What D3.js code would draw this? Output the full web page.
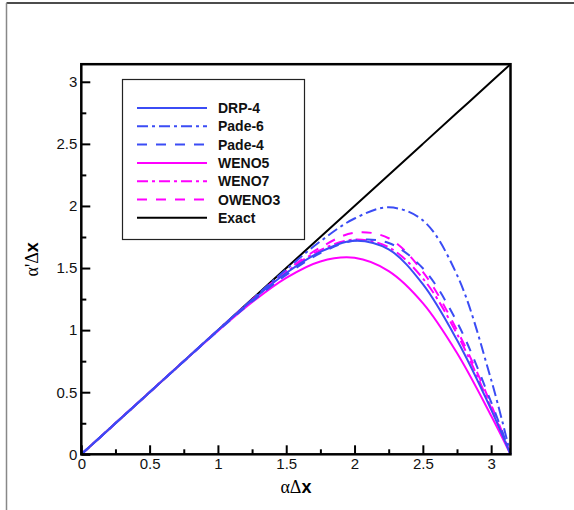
<!DOCTYPE html>
<html>
<head>
<meta charset="utf-8">
<script src="https://cdn.jsdelivr.net/npm/d3@7"></script>
<style>
  body { margin: 0; background: #fff; }
  text { font-family: Arial, "Liberation Sans", sans-serif; }
</style>
</head>
<body>
<svg id="mainSvg" width="574" height="510"></svg>
<script>
// wavenumbers (alpha*dx) where the curves were read
var waveNumbers = [0, 0.25, 0.5, 0.75, 1.0, 1.25, 1.5, 1.75, 2.0, 2.25, 2.5, 2.75, 3.0, Math.PI];
// modified wavenumbers
var drp4   = [0, 0.25, 0.50, 0.75, 0.999, 1.24, 1.46, 1.63, 1.72, 1.65, 1.37, 0.92, 0.36, 0];
var pade6  = [0, 0.25, 0.50, 0.75, 1.00, 1.247, 1.489, 1.715, 1.899, 1.989, 1.884, 1.445, 0.60, 0];
var pade4  = [0, 0.25, 0.50, 0.749, 0.994, 1.23, 1.445, 1.62, 1.722, 1.702, 1.498, 1.065, 0.42, 0];
var weno5  = [0, 0.25, 0.50, 0.749, 0.994, 1.225, 1.421, 1.553, 1.582, 1.475, 1.217, 0.815, 0.31, 0];
var weno7  = [0, 0.25, 0.50, 0.75, 0.999, 1.242, 1.467, 1.645, 1.729, 1.667, 1.417, 0.97, 0.373, 0];
var oweno3 = [0, 0.25, 0.50, 0.75, 0.999, 1.245, 1.475, 1.665, 1.785, 1.74, 1.47, 1.0, 0.40, 0];
var exact  = waveNumbers.slice();

var seriesNames = ["DRP-4", "Pade-6", "Pade-4", "WENO5", "WENO7", "OWENO3", "Exact"];
var seriesValues = [drp4, pade6, pade4, weno5, weno7, oweno3, exact];
var xTicks = [0, 0.5, 1, 1.5, 2, 2.5, 3];
var yTicks = [0, 0.5, 1, 1.5, 2, 2.5, 3];

var blue = "#3b4cf5", magenta = "#ff00ff";
// line style per series (same order as names)
var styles = [
  {color: blue, dash: null},
  {color: blue, dash: "11,4,3,4"},
  {color: blue, dash: "10,9"},
  {color: magenta, dash: null},
  {color: magenta, dash: "11,4,3,4"},
  {color: magenta, dash: "10,9"},
  {color: "#000", dash: null}
];

var svg = d3.select("#mainSvg");
var plotL = 81.3, plotR = 510.5, plotT = 64.2, plotB = 454.3;

var x = d3.scaleLinear().domain([0, Math.PI]).range([plotL, plotR]);
var y = d3.scaleLinear().domain([0, Math.PI]).range([plotB, plotT]);

// outer frame (only top and left edges visible)
svg.append("line").attr("x1", 6.5).attr("y1", 3).attr("x2", 574).attr("y2", 3)
  .style("stroke", "#111").style("stroke-width", 1.5);
svg.append("line").attr("x1", 6.5).attr("y1", 3).attr("x2", 6.5).attr("y2", 510)
  .style("stroke", "#888").style("stroke-width", 1.5);

// curves
var line = d3.line().x(function (d) { return x(d[0]); }).y(function (d) { return y(d[1]); })
  .curve(d3.curveCatmullRom.alpha(0.5));
var drawOrder = [6, 3, 4, 5, 2, 1, 0];
drawOrder.forEach(function (i) {
  var pts = waveNumbers.map(function (w, k) { return [w, seriesValues[i][k]]; });
  svg.append("path").datum(pts).attr("d", line)
    .style("fill", "none").style("stroke", styles[i].color)
    .style("stroke-width", 2).style("stroke-dasharray", styles[i].dash);
});

// axes: ticks pointing inward, bottom and left only
var xAxis = d3.axisBottom(x).tickValues(xTicks).tickSizeInner(-9).tickSizeOuter(0).tickPadding(4)
  .tickFormat(d3.format(""));
var yAxis = d3.axisLeft(y).tickValues(yTicks).tickSizeInner(-9).tickSizeOuter(0).tickPadding(4)
  .tickFormat(d3.format(""));
var xMinor = d3.axisBottom(x).tickValues(d3.range(0.25, 3.01, 0.5)).tickSizeInner(-5).tickSizeOuter(0).tickFormat("");
var yMinor = d3.axisLeft(y).tickValues(d3.range(0.25, 3.01, 0.5)).tickSizeInner(-5).tickSizeOuter(0).tickFormat("");

function styleAxis(g) {
  g.select(".domain").remove();
  g.selectAll(".tick line").style("stroke", "#000").style("stroke-width", 2);
  g.selectAll(".tick text").style("font-size", "15px").style("fill", "#111")
    .style("font-family", "Arial, 'Liberation Sans', sans-serif");
}
svg.append("g").attr("transform", "translate(0," + plotB + ")").call(xAxis).call(styleAxis);
svg.append("g").attr("transform", "translate(" + plotL + ",0)").call(yAxis).call(styleAxis);
svg.append("g").attr("transform", "translate(0," + plotB + ")").call(xMinor).call(styleAxis);
svg.append("g").attr("transform", "translate(" + plotL + ",0)").call(yMinor).call(styleAxis);

// plot box
svg.append("rect").attr("x", plotL).attr("y", plotT).attr("width", plotR - plotL).attr("height", plotB - plotT)
  .style("fill", "none").style("stroke", "#000").style("stroke-width", 2.5);

// axis titles
var xt = svg.append("text").attr("x", (plotL + plotR) / 2).attr("y", 493).attr("text-anchor", "middle")
  .style("font-size", "18px");
xt.append("tspan").style("font-family", "'Liberation Serif', 'DejaVu Serif', serif").text("αΔ");
xt.append("tspan").style("font-weight", "bold").text("x");

var yt = svg.append("text").attr("transform", "translate(38," + ((plotT + plotB) / 2) + ") rotate(-90)")
  .attr("text-anchor", "middle").style("font-size", "18px");
yt.append("tspan").style("font-family", "'Liberation Serif', 'DejaVu Serif', serif").text("α'Δ");
yt.append("tspan").style("font-weight", "bold").text("x");

// legend
var lg = svg.append("g");
lg.append("rect").attr("x", 122.5).attr("y", 79.5).attr("width", 182).attr("height", 160)
  .style("fill", "#fff").style("stroke", "#222").style("stroke-width", 1.2);
seriesNames.forEach(function (name, i) {
  var ly = 108 + i * 18.3;
  lg.append("line").attr("x1", 137).attr("x2", 207).attr("y1", ly).attr("y2", ly)
    .style("stroke", styles[i].color).style("stroke-width", 2).style("stroke-dasharray", styles[i].dash);
  lg.append("text").attr("x", 218).attr("y", ly + 5).style("font-size", "14px").style("font-weight", "bold")
    .style("fill", "#111").text(name);
});
</script>
</body>
</html>
